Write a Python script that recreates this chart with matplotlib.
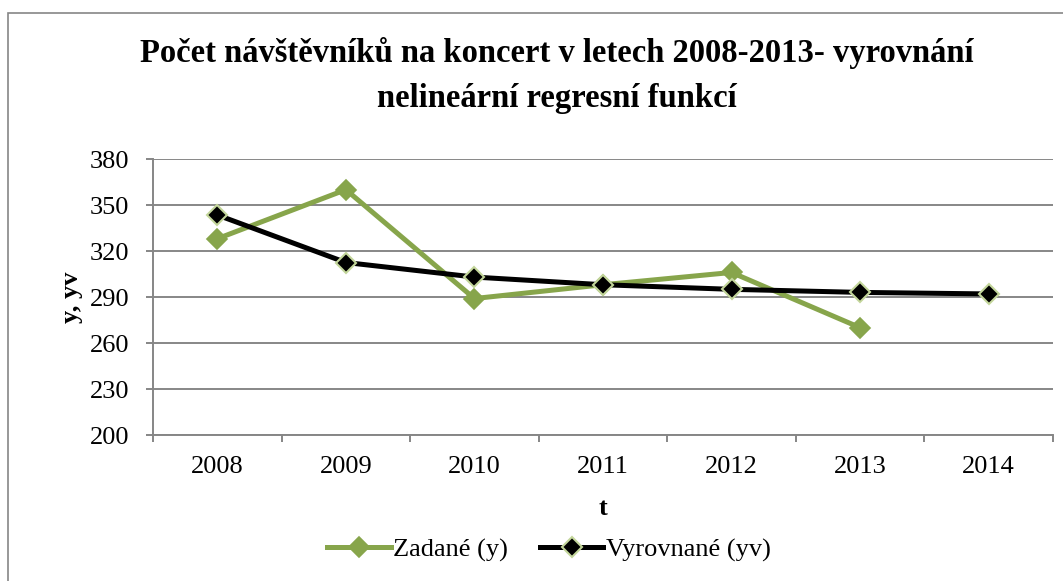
import matplotlib
matplotlib.use("Agg")
import matplotlib.pyplot as plt
from matplotlib.patches import Rectangle

# data
years = ["2008", "2009", "2010", "2011", "2012", "2013", "2014"]
zadane = [328, 360, 289, 298, 306, 270]
vyrovnane = [343.5, 312.5, 303, 298, 295, 293, 292]
y_ticks = [200, 230, 260, 290, 320, 350, 380]

W, H = 1063, 581
plt.rcParams['font.family'] = ['Liberation Serif', 'DejaVu Serif']

fig = plt.figure(figsize=(W / 100, H / 100), dpi=100)
ax = fig.add_axes([153 / W, 1 - 435 / H, 900 / W, 276 / H])

# outer chart border (only left and top edges are inside the image)
fig.patches.append(Rectangle((8 / W, -0.05), 1.1, 1 - 13 / H + 0.05,
                             transform=fig.transFigure, fill=False,
                             edgecolor='#868686', linewidth=1.2))

green = '#87A54B'
light = '#C3D69B'
x_z = list(range(len(zadane)))
x_v = list(range(len(vyrovnane)))

ax.plot(x_z, zadane, color=green, linewidth=3.6, marker='D', markersize=10.5,
        markerfacecolor=green, markeredgecolor=green, markeredgewidth=1.2,
        label='Zadané (y)', zorder=3)
ax.plot(x_v, vyrovnane, color='black', linewidth=3.6, marker='D', markersize=10,
        markerfacecolor='black', markeredgecolor=light, markeredgewidth=1.5,
        label='Vyrovnané (yv)', zorder=4)

ax.set_xlim(-0.5, len(years) - 0.5)
ax.set_ylim(200, 380)
ax.set_yticks(y_ticks)
ax.set_xticks(range(len(years)))
ax.set_xticklabels(years)
ax.set_xticks([i - 0.5 for i in range(len(years) + 1)], minor=True)
ax.tick_params(axis='x', which='major', length=0, pad=15, labelsize=19)
ax.tick_params(axis='x', which='minor', length=5, width=1.4, color='#868686', direction='out')
ax.tick_params(axis='y', length=5, width=1.4, color='#868686', pad=12, labelsize=19)

ax.grid(axis='y', color='#878787', linewidth=1.4)
ax.set_axisbelow(True)
for s in ['top', 'right']:
    ax.spines[s].set_visible(False)
for s in ['left', 'bottom']:
    ax.spines[s].set_color('#868686')
    ax.spines[s].set_linewidth(1.4)

ax.set_ylabel('y, yv', fontsize=19, fontweight='bold')
ax.yaxis.set_label_coords((83 - 153) / 900, 0.5)
ax.set_xlabel('t', fontsize=19, fontweight='bold')
ax.xaxis.label.set_va('baseline')
ax.xaxis.set_label_coords(0.5, (435 - 515) / 276)

fig.text(557 / W, 1 - 62 / H,
         'Počet návštěvníků na koncert v letech 2008-2013- vyrovnání',
         ha='center', va='baseline', fontsize=23.5, fontweight='bold')
fig.text(557 / W, 1 - 107 / H, 'nelineární regresní funkcí',
         ha='center', va='baseline', fontsize=23.5, fontweight='bold')

fig.legend(loc='center', bbox_to_anchor=(549 / W, 1 - 550 / H), ncol=2,
           frameon=False, fontsize=19, handlelength=2.4, handletextpad=0.1,
           columnspacing=1.2)

fig.savefig('out.png', dpi=100)
